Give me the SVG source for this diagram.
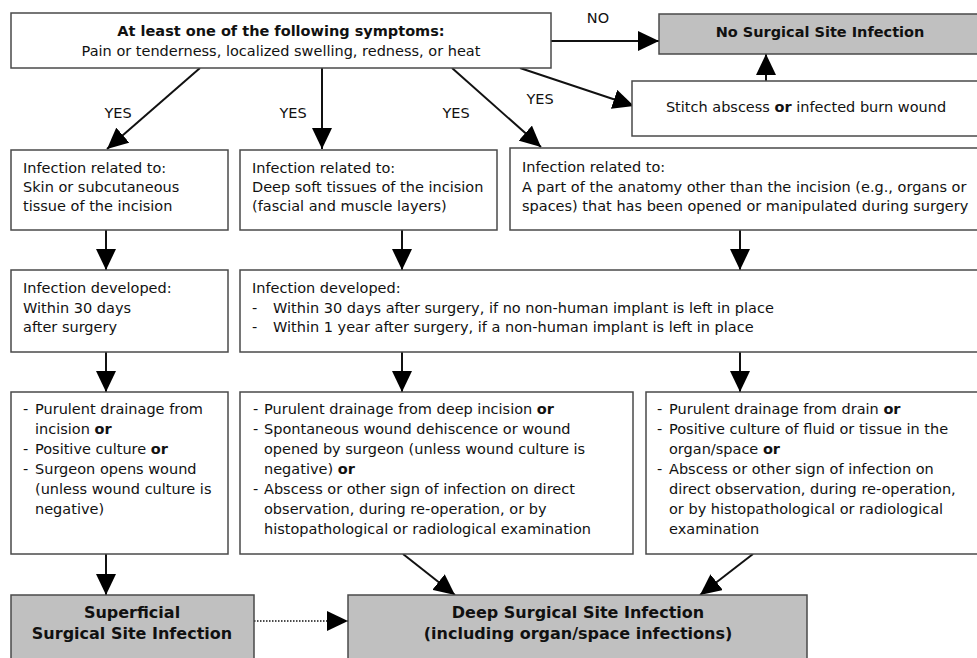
<svg xmlns="http://www.w3.org/2000/svg" width="977" height="658" viewBox="0 0 977 658">
<style>
.box{fill:#fff;stroke:#4a4a4a;stroke-width:1.5}
.grey{fill:#c0c0c0;stroke:#4a4a4a;stroke-width:1.5}
text{font-family:"DejaVu Sans",Verdana,sans-serif;font-size:14.5px;fill:#111}
.b{font-weight:bold}
.c{text-anchor:middle}
.big{font-size:16px}
.ln{stroke:#111;stroke-width:2;fill:none;marker-end:url(#ah)}
.dot{stroke:#111;stroke-width:1.5;fill:none;stroke-dasharray:1.5,1.5;marker-end:url(#ah)}
</style>
<defs>
<marker id="ah" viewBox="0 0 21 20" refX="21" refY="10" markerWidth="21" markerHeight="20" markerUnits="userSpaceOnUse" orient="auto">
<path d="M0,0 L21,10 L0,20 z" fill="#000"/>
</marker>
</defs>
<rect width="977" height="658" fill="#fff"/>

<g id="connectors">
<path class="ln" d="M551,41 L659,41"/>
<path class="ln" d="M766,81 L766,54"/>
<path class="ln" d="M520,68 L634,106"/>
<path class="ln" d="M200,68 L107,149"/>
<path class="ln" d="M322,68 L322,149"/>
<path class="ln" d="M452,68 L541,147"/>
<path class="ln" d="M106,230 L106,270"/>
<path class="ln" d="M402,230 L402,270"/>
<path class="ln" d="M740,230 L740,270"/>
<path class="ln" d="M106,352 L106,392"/>
<path class="ln" d="M402,352 L402,392"/>
<path class="ln" d="M740,352 L740,392"/>
<path class="ln" d="M106,554 L106,595"/>
<path class="ln" d="M403,554 L455,595"/>
<path class="ln" d="M753,554 L700,595"/>
<path class="dot" d="M254,621 L348,621"/>
<text class="c" x="598" y="23">NO</text>
<text class="c" x="118" y="118">YES</text>
<text class="c" x="293" y="118">YES</text>
<text class="c" x="456" y="118">YES</text>
<text class="c" x="540" y="104">YES</text>
</g>

<g id="symptoms">
<rect class="box" x="11" y="13" width="540" height="55"/>
<text class="c b" x="281" y="36">At least one of the following symptoms:</text>
<text class="c" x="281" y="56">Pain or tenderness, localized swelling, redness, or heat</text>
</g>

<g id="no-ssi">
<rect class="grey" x="659" y="14" width="330" height="40"/>
<text class="c b" x="820" y="37">No Surgical Site Infection</text>
</g>

<g id="stitch">
<rect class="box" x="632" y="81" width="357" height="55"/>
<text class="c" x="806" y="112">Stitch abscess <tspan class="b">or</tspan> infected burn wound</text>
</g>

<g id="rel-skin">
<rect class="box" x="11" y="150" width="217" height="80"/>
<text x="23" y="173">Infection related to:</text>
<text x="23" y="192">Skin or subcutaneous</text>
<text x="23" y="211">tissue of the incision</text>
</g>

<g id="rel-deep">
<rect class="box" x="240" y="150" width="257" height="80"/>
<text x="252" y="173">Infection related to:</text>
<text x="252" y="192">Deep soft tissues of the incision</text>
<text x="252" y="211">(fascial and muscle layers)</text>
</g>

<g id="rel-organ">
<rect class="box" x="510" y="148" width="479" height="82"/>
<text x="522" y="172">Infection related to:</text>
<text x="522" y="192">A part of the anatomy other than the incision (e.g., organs or</text>
<text x="522" y="211">spaces) that has been opened or manipulated during surgery</text>
</g>

<g id="dev-superficial">
<rect class="box" x="11" y="270" width="217" height="82"/>
<text x="23" y="293">Infection developed:</text>
<text x="23" y="313">Within 30 days</text>
<text x="23" y="332">after surgery</text>
</g>

<g id="dev-deep">
<rect class="box" x="240" y="270" width="749" height="82"/>
<text x="252" y="293">Infection developed:</text>
<text x="252" y="313">-</text>
<text x="273" y="313">Within 30 days after surgery, if no non-human implant is left in place</text>
<text x="252" y="332">-</text>
<text x="273" y="332">Within 1 year after surgery, if a non-human implant is left in place</text>
</g>

<g id="crit-superficial">
<rect class="box" x="11" y="392" width="217" height="162"/>
<text x="23" y="414">-</text>
<text x="35" y="414">Purulent drainage from</text>
<text x="35" y="434">incision <tspan class="b">or</tspan></text>
<text x="23" y="454">-</text>
<text x="35" y="454">Positive culture <tspan class="b">or</tspan></text>
<text x="23" y="474">-</text>
<text x="35" y="474">Surgeon opens wound</text>
<text x="35" y="494">(unless wound culture is</text>
<text x="35" y="514">negative)</text>
</g>

<g id="crit-deep">
<rect class="box" x="240" y="392" width="393" height="162"/>
<text x="253" y="414">-</text>
<text x="264" y="414">Purulent drainage from deep incision <tspan class="b">or</tspan></text>
<text x="253" y="434">-</text>
<text x="264" y="434">Spontaneous wound dehiscence or wound</text>
<text x="264" y="454">opened by surgeon (unless wound culture is</text>
<text x="264" y="474">negative) <tspan class="b">or</tspan></text>
<text x="253" y="494">-</text>
<text x="264" y="494">Abscess or other sign of infection on direct</text>
<text x="264" y="514">observation, during re-operation, or by</text>
<text x="264" y="534">histopathological or radiological examination</text>
</g>

<g id="crit-organ">
<rect class="box" x="646" y="392" width="343" height="162"/>
<text x="657" y="414">-</text>
<text x="669" y="414">Purulent drainage from drain <tspan class="b">or</tspan></text>
<text x="657" y="434">-</text>
<text x="669" y="434">Positive culture of fluid or tissue in the</text>
<text x="669" y="454">organ/space <tspan class="b">or</tspan></text>
<text x="657" y="474">-</text>
<text x="669" y="474">Abscess or other sign of infection on</text>
<text x="669" y="494">direct observation, during re-operation,</text>
<text x="669" y="514">or by histopathological or radiological</text>
<text x="669" y="534">examination</text>
</g>

<g id="superficial-ssi">
<rect class="grey" x="11" y="595" width="243" height="80"/>
<text class="c b big" x="132" y="618">Superficial</text>
<text class="c b big" x="132" y="639">Surgical Site Infection</text>
</g>

<g id="deep-ssi">
<rect class="grey" x="348" y="595" width="459" height="80"/>
<text class="c b big" x="578" y="618">Deep Surgical Site Infection</text>
<text class="c b big" x="578" y="639">(including organ/space infections)</text>
</g>
</svg>
